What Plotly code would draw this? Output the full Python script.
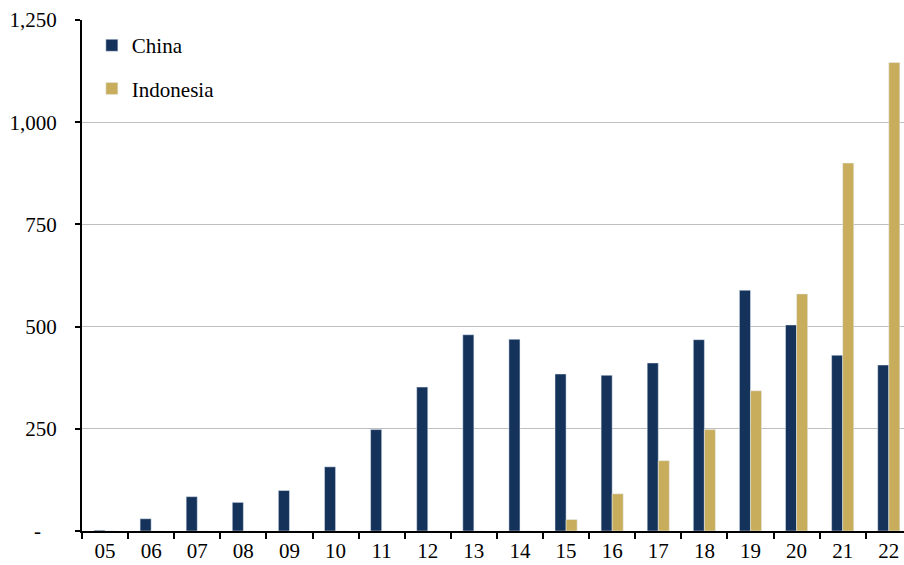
import plotly.graph_objects as go

years = ["05", "06", "07", "08", "09", "10", "11", "12", "13",
         "14", "15", "16", "17", "18", "19", "20", "21", "22"]
china = [2, 30, 84, 70, 99, 157, 248, 352, 480,
         469, 384, 381, 411, 468, 589, 504, 430, 406]
indonesia = [0, 0, 0, 0, 0, 0, 0, 0, 0,
             0, 28, 91, 172, 248, 343, 580, 900, 1146]

y_tickvals = [0, 250, 500, 750, 1000, 1250]
y_ticktext = ["-\u00a0\u00a0\u00a0", "250", "500", "750", "1,000", "1,250"]

NAVY = "#14325A"
GOLD = "#C8AE5C"
FONT = "Liberation Serif, Times New Roman, serif"
FS = 21

fig = go.Figure()
fig.add_trace(go.Bar(x=years, y=china, name="China", marker_color=NAVY,
                     legendgroup="a"))
fig.add_trace(go.Bar(x=years, y=indonesia, name="Indonesia", marker_color=GOLD,
                     legendgroup="b"))

fig.update_layout(
    width=904, height=565,
    margin=dict(l=82, r=0, t=20, b=34),
    paper_bgcolor="white", plot_bgcolor="white",
    barmode="group", bargap=0.52, bargroupgap=0,
    font=dict(family=FONT, size=FS, color="black"),
    showlegend=True,
    legend=dict(x=0.012, y=0.99, xanchor="left", yanchor="top",
                bgcolor="rgba(0,0,0,0)", tracegroupgap=13,
                font=dict(family=FONT, size=FS, color="black")),
    xaxis=dict(
        type="category", range=[-0.5, 17.33],
        showline=True, linecolor="black", linewidth=2,
        ticks="outside", tickson="boundaries", ticklen=6,
        tickcolor="black", tickwidth=2,
        showgrid=False, zeroline=False,
        tickfont=dict(family=FONT, size=FS, color="black"),
    ),
    yaxis=dict(
        range=[0, 1250], tickvals=y_tickvals, ticktext=y_ticktext,
        showline=True, linecolor="black", linewidth=2,
        ticks="outside", ticklen=5, tickcolor="black", tickwidth=2,
        ticklabelstandoff=14,
        showgrid=True, gridcolor="#BFBFBF", gridwidth=1,
        zeroline=False,
        tickfont=dict(family=FONT, size=FS, color="black"),
    ),
)

fig.write_html("out.html")
